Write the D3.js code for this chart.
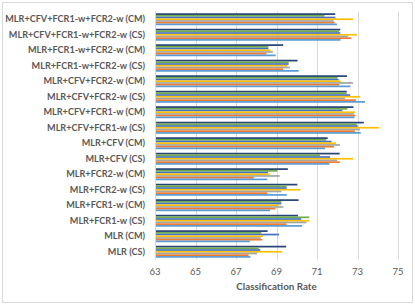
<!DOCTYPE html>
<html>
<head>
<meta charset="utf-8">
<script src="https://d3js.org/d3.v7.min.js"></script>
<style>
body { margin:0; background:#fff; }
text { font-family: Lato, "Liberation Sans", sans-serif; fill:#595959; }
</style>
</head>
<body>
<div id="main"></div>
<script>
// categories, top to bottom as drawn
var categories = ['MLR+CFV+FCR1-w+FCR2-w (CM)','MLR+CFV+FCR1-w+FCR2-w (CS)','MLR+FCR1-w+FCR2-w (CM)','MLR+FCR1-w+FCR2-w (CS)',
  'MLR+CFV+FCR2-w (CM)','MLR+CFV+FCR2-w (CS)','MLR+CFV+FCR1-w (CM)','MLR+CFV+FCR1-w (CS)',
  'MLR+CFV (CM)','MLR+CFV (CS)','MLR+FCR2-w (CM)','MLR+FCR2-w (CS)',
  'MLR+FCR1-w (CM)','MLR+FCR1-w (CS)','MLR (CM)','MLR (CS)']

// one array per series, same order as categories (series 7 is the top bar of each group)
var s7 = [71.90,72.15,69.33,70.04,72.48,72.47,72.80,73.31,71.53,72.12,69.56,70.03,70.09,70.06,68.56,69.48]
var s6 = [71.37,72.08,68.60,69.60,72.01,72.46,72.50,72.96,71.45,71.15,69.04,69.49,69.24,70.62,68.25,68.12]
var s5 = [71.91,72.15,68.60,69.60,72.07,72.64,72.25,73.01,71.72,71.65,68.58,69.51,69.24,70.22,69.13,68.20]
var s4 = [72.78,72.97,68.70,69.53,72.17,73.13,72.88,74.07,71.94,72.78,68.66,70.18,69.10,70.63,68.33,69.28]
var s3 = [71.82,72.54,68.82,69.66,72.78,72.38,72.82,73.12,72.13,72.00,69.16,69.24,69.33,70.48,68.22,68.04]
var s2 = [71.87,72.69,68.50,69.32,72.10,72.92,72.90,72.87,71.84,72.13,67.88,68.55,68.95,69.49,68.30,67.62]
var s1 = [71.99,72.16,68.96,70.10,72.65,73.37,72.85,73.16,71.40,71.61,68.55,69.51,68.68,70.26,67.68,67.71]

var seriesNames = ['s7','s6','s5','s4','s3','s2','s1']
var seriesData = [s7,s6,s5,s4,s3,s2,s1]
var colors = ['#264478','#70AD47','#4472C4','#FFC000','#A5A5A5','#ED7D31','#5B9BD5']
var ticks = [63,65,67,69,71,73,75]

var width = 415, height = 305
var svg = d3.select('#main').append('svg').attr('width',width).attr('height',height)

svg.append('rect').attr('x',2.5).attr('y',2.5).attr('width',410).attr('height',300)
  .attr('fill','#fff').attr('stroke','#D9D9D9')

var x = d3.scaleLinear().domain([63,75]).range([155,398])
var y = d3.scaleBand().domain(categories).range([11.5,259.5]).paddingInner(0.226).paddingOuter(0.113)
var ys = d3.scaleBand().domain(seriesNames).range([0,y.bandwidth()])

// gridlines
svg.selectAll('line.grid').data(ticks).enter().append('line')
  .attr('class','grid')
  .attr('x1',function(d){return Math.round(x(d))+0.5}).attr('x2',function(d){return Math.round(x(d))+0.5})
  .attr('y1',11.5).attr('y2',259.5)
  .attr('stroke','#D9D9D9').attr('stroke-width',1)

// bars
var groups = svg.selectAll('g.cat').data(categories).enter().append('g')
  .attr('class','cat')
  .attr('transform',function(d){return 'translate(0,'+y(d)+')'})

groups.selectAll('rect').data(function(d,i){
    return seriesNames.map(function(s,j){return {s:s, v:seriesData[j][i], c:colors[j]}})
  }).enter().append('rect')
  .attr('x',x(63))
  .attr('y',function(d){return ys(d.s)})
  .attr('width',function(d){return x(d.v)-x(63)})
  .attr('height',ys.bandwidth())
  .attr('fill',function(d){return d.c})

// axis line
svg.append('line').attr('x1',155.5).attr('x2',155.5).attr('y1',11.5).attr('y2',259.5)
  .attr('stroke','#D9D9D9')

// category labels
svg.selectAll('text.cat').data(categories).enter().append('text')
  .attr('class','cat')
  .attr('x',145).attr('y',function(d){return y(d)+y.bandwidth()/2})
  .attr('dy','0.35em')
  .attr('text-anchor','end')
  .style('font-size','9.1px').style('font-weight','bold')
  .text(function(d){return d})

// tick labels
svg.selectAll('text.tick').data(ticks).enter().append('text')
  .attr('class','tick')
  .attr('x',function(d){return x(d)}).attr('y',275)
  .attr('text-anchor','middle')
  .style('font-size','9.5px')
  .text(function(d){return d})

svg.append('text').attr('x',276.5).attr('y',290).attr('text-anchor','middle')
  .style('font-size','9.8px').style('font-weight','bold')
  .text('Classification Rate')
</script>
</body>
</html>
